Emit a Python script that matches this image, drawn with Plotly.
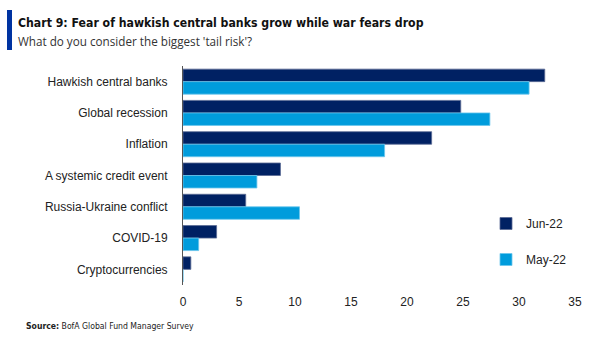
import plotly.graph_objects as go

categories = ["Hawkish central banks", "Global recession", "Inflation",
              "A systemic credit event", "Russia-Ukraine conflict", "COVID-19",
              "Cryptocurrencies"]
jun22 = [32.3, 24.8, 22.2, 8.7, 5.6, 3.0, 0.7]
may22 = [30.9, 27.4, 18.0, 6.6, 10.4, 1.4, 0.0]
x_ticks = [0, 5, 10, 15, 20, 25, 30, 35]

NAVY = "#002163"
LIGHT = "#009CDC"
FONT = "Liberation Sans"
COND = "DejaVu Sans Condensed, Liberation Sans Narrow, Liberation Sans"

L, R, T, B = 183, 17, 66, 52
PW = 592 - L - R
PH = 337 - T - B


def px(p):
    return (p - L) / PW


def py(p):
    return (337 - B - p) / PH


fig = go.Figure()
fig.add_trace(go.Bar(y=categories, x=jun22, name="Jun-22", orientation="h",
                     marker=dict(color=NAVY, line=dict(color="#5a6b94", width=0.8)),
                     legendgroup="a"))
fig.add_trace(go.Bar(y=categories, x=may22, name="May-22", orientation="h",
                     marker=dict(color=LIGHT, line=dict(color="#6cc6ec", width=0.8)),
                     legendgroup="b"))

fig.update_layout(
    width=592, height=337,
    margin=dict(l=L, r=R, t=T, b=B, autoexpand=False),
    paper_bgcolor="white", plot_bgcolor="white",
    barmode="group", bargap=0.2, bargroupgap=0,
    font=dict(family=FONT, size=12, color="#222222"),
    showlegend=True,
    legend=dict(x=px(486), y=py(209), xanchor="left", yanchor="top",
                tracegroupgap=17, font=dict(family=FONT, size=12, color="#222222"),
                itemwidth=30, bgcolor="rgba(0,0,0,0)"),
    xaxis=dict(range=[0, 35], tickvals=x_ticks, showgrid=False, zeroline=False,
               showline=False, ticks="", tickfont=dict(size=12), ticklabelstandoff=8),
    yaxis=dict(autorange="reversed", showgrid=False, showline=True,
               linecolor="#555555", linewidth=1, ticks="", ticklabelstandoff=12,
               tickfont=dict(size=12)),
)

# title accent bar and texts
fig.add_shape(type="rect", xref="paper", yref="paper",
              x0=px(7), x1=px(12), y0=py(50), y1=py(10),
              fillcolor="#0033A1", line=dict(width=0))
fig.add_annotation(xref="paper", yref="paper", x=px(16), y=py(23),
                   xanchor="left", yanchor="middle", showarrow=False,
                   text="<b>Chart 9: Fear of hawkish central banks grow while war fears drop</b>",
                   font=dict(family=COND, size=12.2, color="#111111"))
fig.add_annotation(xref="paper", yref="paper", x=px(16), y=py(41),
                   xanchor="left", yanchor="middle", showarrow=False,
                   text="What do you consider the biggest 'tail risk'?",
                   font=dict(family="Open Sans", size=11.7, color="#333333"))
fig.add_annotation(xref="paper", yref="paper", x=px(24), y=py(326),
                   xanchor="left", yanchor="middle", showarrow=False,
                   text="<b>Source:</b> BofA Global Fund Manager Survey",
                   font=dict(family=COND, size=8.6, color="#222222"))

fig.write_html("out.html")
